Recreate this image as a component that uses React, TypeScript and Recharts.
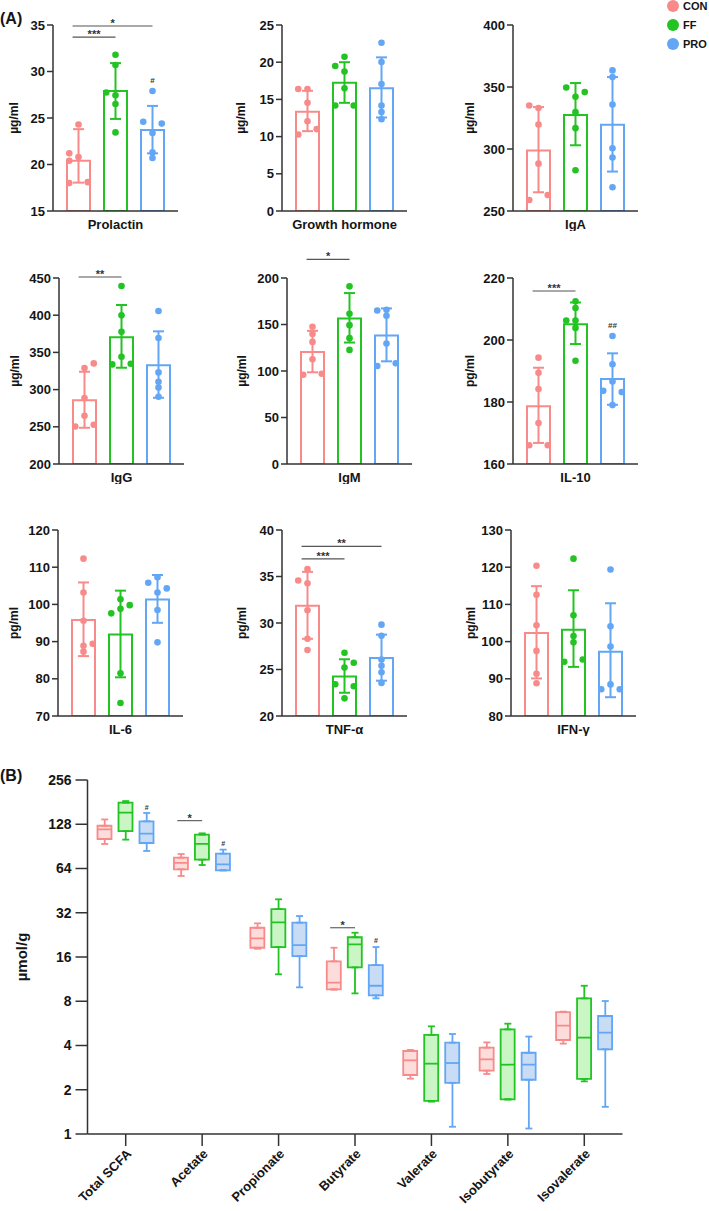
import React from 'react';
import {
  ComposedChart, Bar, Cell, XAxis, YAxis, Scatter, ErrorBar, ReferenceLine, ReferenceDot,
} from 'recharts';

// ---------------- DATA ----------------
const groups = ['CON', 'FF', 'PRO'];

const panelNames = ['Prolactin', 'Growth hormone', 'IgA', 'IgG', 'IgM', 'IL-10', 'IL-6', 'TNF-α', 'IFN-γ'];
const panelUnits = ['µg/ml', 'µg/ml', 'µg/ml', 'µg/ml', 'µg/ml', 'pg/ml', 'pg/ml', 'pg/ml', 'pg/ml'];
const panelTicks = [
  [15, 20, 25, 30, 35],
  [0, 5, 10, 15, 20, 25],
  [250, 300, 350, 400],
  [200, 250, 300, 350, 400, 450],
  [0, 50, 100, 150, 200],
  [160, 180, 200, 220],
  [70, 80, 90, 100, 110, 120],
  [20, 25, 30, 35, 40],
  [80, 90, 100, 110, 120, 130],
];

const means = [
  [20.4, 27.9, 23.7],
  [13.35, 17.25, 16.5],
  [298.8, 327.5, 319.5],
  [285.8, 370.5, 332.8],
  [120.3, 156.5, 138.2],
  [178.6, 205.1, 187.4],
  [95.8, 91.9, 101.3],
  [31.85, 24.25, 26.25],
  [102.3, 103.2, 97.3],
];
const errLow = [
  [18.05, 24.9, 21.2],
  [10.73, 14.54, 12.57],
  [265.1, 303, 281.8],
  [248.7, 329.4, 289],
  [98.6, 130.6, 110.4],
  [166.8, 198.7, 179.1],
  [86.1, 80.4, 95.05],
  [28.3, 22.5, 23.8],
  [90.1, 93.2, 85.05],
];
const errHigh = [
  [23.8, 30.9, 26.3],
  [16.16, 20.0, 20.65],
  [333.8, 353.2, 358],
  [324, 413.7, 378.3],
  [143.2, 183.8, 167.3],
  [191.05, 212.1, 195.7],
  [105.9, 103.7, 107.9],
  [35.5, 26.1, 28.75],
  [114.9, 113.8, 110.3],
];

const pointsCON = [
  [24.3, 21.2, 20.8, 20.4, 18.0, 18.1],
  [16.4, 16.4, 14.54, 12.07, 11.0, 10.28],
  [335.1, 333, 319.8, 288.2, 262.9, 258.9],
  [335.2, 328.9, 288.6, 264.8, 250.4, 252.7],
  [147.5, 139.9, 131.3, 112.6, 96.0, 97.1],
  [194.3, 189.4, 184.2, 173.2, 166.05, 166.05],
  [112.3, 103.2, 95.6, 88.9, 89.4, 87.3],
  [35.8, 34.57, 34.28, 31.37, 28.31, 27.09],
  [120.4, 112.6, 104.4, 97.5, 91.35, 88.8],
];
const pointsFF = [
  [31.8, 30.7, 27.75, 27.45, 26.5, 23.45],
  [20.74, 19.48, 18.76, 16.5, 14.18, 14.18],
  [349.6, 345.9, 342.1, 329.7, 316.8, 282.9],
  [439.2, 399.8, 377.8, 344.2, 333.9, 334.8],
  [209.4, 191, 161.5, 149.3, 135.3, 122.7],
  [212.5, 210.3, 206.3, 206.3, 203.9, 193.3],
  [97.6, 101.4, 98.8, 99.8, 81.5, 73.5],
  [26.8, 25.72, 25.22, 23.42, 23.2, 21.9],
  [122.3, 107.1, 101.5, 99.8, 94.6, 95.2],
];
const pointsPRO = [
  [27.9, 24.6, 24.4, 23.4, 21.3, 20.7],
  [22.62, 20.02, 17.06, 14.18, 13.29, 12.34],
  [363.4, 358, 335.9, 300.6, 293.1, 269.1],
  [405.6, 369.3, 323.1, 310.5, 302.9, 290.4],
  [165.1, 165.8, 159.4, 129.5, 105.4, 108.3],
  [201.3, 192.2, 186.6, 183.6, 183.2, 179.0],
  [107.3, 105.8, 104.3, 103.2, 98.5, 89.8],
  [29.82, 28.63, 26.08, 25.4, 24.7, 23.56],
  [119.4, 104.1, 98.7, 88.5, 87.2, 87.2],
];
// jitter side of each dot: -1 left, 0 centre, 1 right
const jitterCON = [
  [0, -1, 0, -1, -1, 1], [-1, 0, 0, 0, 1, -1], [-1, 0, 0, 0, 1, -1],
  [1, 0, 0, 0, -1, 1], [0, 0, 0, 0, -1, 1], [0, 0, 0, 0, -1, 1],
  [0, 0, 0, 0, 1, 0], [0, -1, 0, 0, 0, 0], [0, 0, 0, 0, 0, 0],
];
const jitterFF = [
  [0, 0, -1, 0, 0, 0], [0, -1, 0, 0, -1, 1], [-1, 1, 0, 0, 0, 0],
  [0, 0, 0, 0, -1, 1], [0, 0, 0, 0, 0, 0], [0, 0, -1, 0, 0, 0],
  [-1, 0, 0, 1, 0, 0], [0, 1, 0, -1, 1, 0], [0, 0, 0, 0, -1, 1],
];
const jitterPRO = [
  [0, -1, 1, 0, 0, 0], [0, 0, 0, 0, 0, 0], [0, 0, 0, 0, 0, 0],
  [0, 0, 0, 0, 0, 0], [-1, 0, 0, 0, -1, 1], [0, 0, 0, -1, 1, 0],
  [0, -1, 1, 0, 0, 0], [0, 0, 0, 0, 0, 0], [0, 0, 0, 0, -1, 1],
];

const sigLines = [
  { panel: 0, from: 0, to: 1, y: 33.7, mark: '***' },
  { panel: 0, from: 0, to: 2, y: 34.9, mark: '*' },
  { panel: 3, from: 0, to: 1, y: 451.3, mark: '**' },
  { panel: 4, from: 0, to: 1, y: 220, mark: '*' },
  { panel: 5, from: 0, to: 1, y: 215.8, mark: '***' },
  { panel: 7, from: 0, to: 1, y: 36.9, mark: '***' },
  { panel: 7, from: 0, to: 2, y: 38.24, mark: '**' },
];
const hashMarks = [
  { panel: 0, group: 2, y: 29.1, mark: '#' },
  { panel: 5, group: 2, y: 204.8, mark: '##' },
];

// Panel B (box plots, log2 scale)
const scfaNames = ['Total SCFA', 'Acetate', 'Propionate', 'Butyrate', 'Valerate', 'Isobutyrate', 'Isovalerate'];
const scfaTicks = [1, 2, 4, 8, 16, 32, 64, 128, 256];
const boxMin = [
  [94, 56.9, 18.2, 9.6, 2.38, 2.56, 4.12],
  [100.6, 67.6, 12.2, 9.05, 1.66, 1.72, 2.28],
  [84.2, 62.2, 9.95, 8.37, 1.12, 1.09, 1.53],
];
const boxQ1 = [
  [101.6, 63.2, 18.5, 9.64, 2.52, 2.7, 4.36],
  [115, 73.5, 18.7, 13.6, 1.68, 1.72, 2.37],
  [95.4, 62.2, 16.2, 8.77, 2.23, 2.34, 3.77],
];
const boxMed = [
  [118, 69.8, 21.4, 10.7, 3.17, 3.22, 5.46],
  [153.5, 94, 27.5, 19.5, 3.01, 2.96, 4.52],
  [110.4, 68.3, 19.3, 10.2, 3.04, 2.96, 4.89],
];
const boxQ3 = [
  [125, 75.8, 25.3, 14.95, 3.67, 3.87, 6.75],
  [179.5, 108.7, 33.9, 21.8, 4.72, 5.15, 8.37],
  [134, 80.7, 27.4, 14.1, 4.18, 3.57, 6.35],
];
const boxMax = [
  [138, 80.3, 27.1, 18.5, 3.73, 4.2, 6.8],
  [184, 111, 39.5, 23.4, 5.4, 5.63, 10.2],
  [152.7, 86, 30.4, 18.7, 4.79, 4.6, 8.03],
];
const scfaStars = [
  { cat: 1, y: 135.4, mark: '*' },
  { cat: 3, y: 25.3, mark: '*' },
];
const scfaHashes = [
  { cat: 0, y: 165.9, mark: '#' },
  { cat: 1, y: 94.8, mark: '#' },
  { cat: 3, y: 20.6, mark: '#' },
];

// ---------------- STYLE / LAYOUT ----------------
const groupColors = ['#F88A8A', '#22C322', '#62A6F5'];
const boxFills = ['#FDDCDC', '#CAF6C6', '#C8DCF6'];
const AXIS = '#333333';
const TEXT = '#151515';
const FONT = '"Liberation Sans", Arial, Helvetica, sans-serif';

const rowPlotTops = [25, 277.7, 530.3];
const panelAxisX = [53, 282, 513, 58.7, 286.7, 513.3, 58.3, 281.7, 510.7];
const colLabelX = [14, 241, 470];

const A_YAXIS_W = 53;
const A_PLOT_W = 125;
const A_PLOT_H = 186;
const A_TOP = 32;
const A_XAXIS_H = 20;
const A_RIGHT = 4;
const A_PAD = 7;
const A_BAR = 23;
const JIT = 0.25;
const SIG_START = 0.16;

function SmallPanel({ i }: { i: number }) {
  const row = Math.floor(i / 3);
  const col = i % 3;
  const axisX = panelAxisX[i];
  const left = axisX - A_YAXIS_W;
  const top = rowPlotTops[row] - A_TOP;
  const width = A_YAXIS_W + A_PLOT_W + A_RIGHT;
  const height = A_TOP + A_PLOT_H + A_XAXIS_H;
  const ticks = panelTicks[i];
  const barData = groups.map((g, k) => ({ g, mean: means[i][k] }));
  const pts = [pointsCON[i], pointsFF[i], pointsPRO[i]];
  const jit = [jitterCON[i], jitterFF[i], jitterPRO[i]];

  return (
    <div style={{ position: 'absolute', left, top }}>
      <ComposedChart width={width} height={height} data={barData}
        margin={{ top: A_TOP, right: A_RIGHT, bottom: 0, left: 0 }}>
        <XAxis dataKey="g" type="category" tick={false} tickLine={false}
          axisLine={{ stroke: AXIS, strokeWidth: 1.5 }} height={A_XAXIS_H}
          padding={{ left: A_PAD, right: A_PAD }}
          label={{ value: panelNames[i], position: 'insideBottom', offset: 2, fill: TEXT, fontSize: 13, fontWeight: 700 }} />
        <XAxis xAxisId="n" dataKey="x" type="number" domain={[0, 3]} hide allowDataOverflow
          padding={{ left: A_PAD, right: A_PAD }} />
        <YAxis width={A_YAXIS_W} type="number" domain={[ticks[0], ticks[ticks.length - 1]]}
          ticks={ticks} interval={0} allowDataOverflow tickSize={6} tickMargin={2}
          axisLine={{ stroke: AXIS, strokeWidth: 1.5 }} tickLine={{ stroke: AXIS, strokeWidth: 1.5 }}
          tick={{ fill: TEXT, fontSize: 13, fontWeight: 700 }}
          label={{ value: panelUnits[i], angle: -90, position: 'insideLeft', offset: colLabelX[col] - left,
            style: { textAnchor: 'middle' }, fill: TEXT, fontSize: 12, fontWeight: 700 }} />
        <Bar dataKey="mean" barSize={A_BAR} fill="#ffffff" strokeWidth={2} isAnimationActive={false}>
          {groups.map((g, k) => <Cell key={g} stroke={groupColors[k]} fill="#ffffff" />)}
        </Bar>
        {groups.map((g, k) => (
          <Scatter key={'err' + g} xAxisId="n" dataKey="y" isAnimationActive={false}
            data={[{ x: k + 0.5, y: means[i][k], err: [means[i][k] - errLow[i][k], errHigh[i][k] - means[i][k]] }]}
            shape={() => <g />}>
            <ErrorBar dataKey="err" direction="y" width={5.5} stroke={groupColors[k]} strokeWidth={2} />
          </Scatter>
        ))}
        {groups.map((g, k) => (
          <Scatter key={'pts' + g} xAxisId="n" dataKey="y" isAnimationActive={false}
            data={pts[k].map((v, j) => ({ x: k + 0.5 + jit[k][j] * JIT, y: v }))}
            shape={(p: any) => <circle cx={p.cx} cy={p.cy} r={3.3} fill={groupColors[k]} />} />
        ))}
        {sigLines.filter((s) => s.panel === i).map((s, n) => (
          <ReferenceLine key={'sig' + n} xAxisId="n" ifOverflow="visible" stroke="#555" strokeWidth={1.1}
            segment={[{ x: s.from + 0.5 - SIG_START, y: s.y }, { x: s.to + 0.5, y: s.y }]}
            label={{ value: s.mark, position: 'top', offset: -1, fill: '#333', fontSize: 11, fontWeight: 700 }} />
        ))}
        {hashMarks.filter((h) => h.panel === i).map((h, n) => (
          <ReferenceDot key={'hash' + n} xAxisId="n" x={h.group + 0.5} y={h.y} r={0} stroke="none" fill="none"
            ifOverflow="visible"
            label={{ value: h.mark, position: 'center', fill: '#333', fontSize: 8, fontWeight: 700 }} />
        ))}
      </ComposedChart>
    </div>
  );
}

const B_LEFT = 0;
const B_PLOT_TOP = 780;
const B_TOP = 20;
const B_YAXIS_W = 87.5;
const B_PLOT_W = 535;
const B_PLOT_H = 354;
const B_XAXIS_H = 77;
const B_RIGHT = 15.5;
const B_BAR = 14;
const B_GAP = 7;

function PanelB() {
  const width = B_YAXIS_W + B_PLOT_W + B_RIGHT;
  const height = B_TOP + B_PLOT_H + B_XAXIS_H;
  const band = B_PLOT_W / scfaNames.length;
  const off = (B_BAR + B_GAP) / band;
  const data = scfaNames.map((name, c) => {
    const row: any = { name };
    groups.forEach((g, k) => { row[g] = [boxQ1[k][c], boxQ3[k][c]]; });
    return row;
  });

  return (
    <div style={{ position: 'absolute', left: B_LEFT, top: B_PLOT_TOP - B_TOP }}>
      <ComposedChart width={width} height={height} data={data} barGap={B_GAP}
        margin={{ top: B_TOP, right: B_RIGHT, bottom: 0, left: 0 }}>
        <XAxis dataKey="name" type="category" interval={0} height={B_XAXIS_H}
          tickSize={12} tickMargin={2} angle={-45} textAnchor="end"
          axisLine={{ stroke: AXIS, strokeWidth: 1.5 }} tickLine={{ stroke: AXIS, strokeWidth: 1.5 }}
          tick={{ fill: TEXT, fontSize: 13, fontWeight: 700 }} />
        <XAxis xAxisId="n" dataKey="x" type="number" domain={[0, scfaNames.length]} hide allowDataOverflow />
        <YAxis width={B_YAXIS_W} type="number" scale="log" domain={[1, 256]} ticks={scfaTicks}
          interval={0} allowDataOverflow tickSize={12} tickMargin={4}
          axisLine={{ stroke: AXIS, strokeWidth: 1.5 }} tickLine={{ stroke: AXIS, strokeWidth: 1.5 }}
          tick={{ fill: TEXT, fontSize: 14, fontWeight: 700 }}
          label={{ value: 'µmol/g', angle: -90, position: 'insideLeft', offset: 22,
            style: { textAnchor: 'middle' }, fill: TEXT, fontSize: 15, fontWeight: 700 }} />
        {groups.map((g, k) => (
          <Bar key={'box' + g} dataKey={g} barSize={B_BAR} fill={boxFills[k]} stroke={groupColors[k]}
            strokeWidth={1.8} isAnimationActive={false} />
        ))}
        {groups.map((g, k) => (
          <Scatter key={'wh' + g} xAxisId="n" dataKey="y" isAnimationActive={false}
            data={scfaNames.flatMap((_, c) => [
              { x: c + 0.5 + (k - 1) * off, y: boxQ1[k][c], err: [boxQ1[k][c] - boxMin[k][c], 0] },
              { x: c + 0.5 + (k - 1) * off, y: boxQ3[k][c], err: [0, boxMax[k][c] - boxQ3[k][c]] },
            ])}
            shape={() => <g />}>
            <ErrorBar dataKey="err" direction="y" width={3.5} stroke={groupColors[k]} strokeWidth={1.8} />
          </Scatter>
        ))}
        {groups.map((g, k) => (
          <Scatter key={'med' + g} xAxisId="n" dataKey="y" isAnimationActive={false}
            data={scfaNames.map((_, c) => ({ x: c + 0.5 + (k - 1) * off, y: boxMed[k][c] }))}
            shape={(p: any) => (
              <line x1={p.cx - B_BAR / 2} x2={p.cx + B_BAR / 2} y1={p.cy} y2={p.cy}
                stroke={groupColors[k]} strokeWidth={1.8} />
            )} />
        ))}
        {scfaStars.map((s, n) => (
          <ReferenceLine key={'bs' + n} xAxisId="n" ifOverflow="visible" stroke="#555" strokeWidth={1.1}
            segment={[{ x: s.cat + 0.5 - off - 0.05, y: s.y }, { x: s.cat + 0.5, y: s.y }]}
            label={{ value: s.mark, position: 'top', offset: -1, fill: '#333', fontSize: 11, fontWeight: 700 }} />
        ))}
        {scfaHashes.map((h, n) => (
          <ReferenceDot key={'bh' + n} xAxisId="n" x={h.cat + 0.5 + off} y={h.y} r={0} stroke="none" fill="none"
            ifOverflow="visible"
            label={{ value: h.mark, position: 'center', fill: '#333', fontSize: 7, fontWeight: 700 }} />
        ))}
      </ComposedChart>
    </div>
  );
}

function Overlay() {
  return (
    <svg width={709} height={1211} style={{ position: 'absolute', left: 0, top: 0 }}>
      <text x={0} y={24} fontSize={16} fontWeight={700} fill={TEXT}>(A)</text>
      <text x={0} y={781} fontSize={16} fontWeight={700} fill={TEXT}>(B)</text>
      {groups.map((g, k) => (
        <g key={g}>
          <circle cx={673} cy={6 + k * 19} r={6} fill={groupColors[k]} />
          <text x={683} y={10 + k * 19} fontSize={11} fontWeight={700} fill={TEXT}>{g}</text>
        </g>
      ))}
    </svg>
  );
}

export default function App() {
  return (
    <div style={{ position: 'absolute', left: 0, top: 0, width: 709, height: 1211, background: '#fff', fontFamily: FONT, overflow: 'hidden' }}>
      <Overlay />
      {panelNames.map((_, i) => <SmallPanel key={i} i={i} />)}
      <PanelB />
    </div>
  );
}
